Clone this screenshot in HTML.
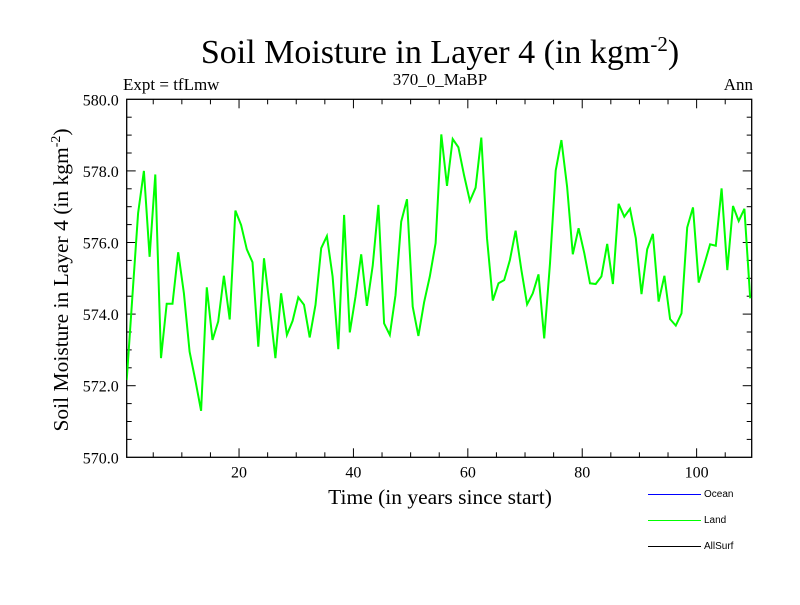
<!DOCTYPE html>
<html><head><meta charset="utf-8"><style>
body{margin:0;background:#fff}
svg text{font-family:"Liberation Serif",serif;fill:#000}
</style></head><body>
<svg id="chart" width="800" height="600" xmlns="http://www.w3.org/2000/svg">
<text x="440" y="63" font-size="34" text-anchor="middle">Soil Moisture in Layer 4 (in kgm<tspan dy="-12" font-size="21">-2</tspan><tspan dy="12">)</tspan></text>
<text x="123" y="90" font-size="17">Expt = tfLmw</text>
<text x="440" y="85" font-size="17" text-anchor="middle">370_0_MaBP</text>
<text x="753" y="90" font-size="17" text-anchor="end">Ann</text>
<text transform="translate(68,280) rotate(-90)" font-size="21.5" text-anchor="middle">Soil Moisture in Layer 4 (in kgm<tspan dy="-8" font-size="14">-2</tspan><tspan dy="8">)</tspan></text>
<text x="440" y="504" font-size="21.5" text-anchor="middle">Time (in years since start)</text>
<g id="axes"></g>
<g id="series"></g>
<g id="legend" shape-rendering="crispEdges">
<line x1="648" y1="494.5" x2="701" y2="494.5" stroke="#0000ff"/>
<text x="704" y="497" style="font-family:'Liberation Sans',sans-serif;font-size:10px">Ocean</text>
<line x1="648" y1="520.5" x2="701" y2="520.5" stroke="#00ff00"/>
<text x="704" y="523" style="font-family:'Liberation Sans',sans-serif;font-size:10px">Land</text>
<line x1="648" y1="546.5" x2="701" y2="546.5" stroke="#000"/>
<text x="704" y="549" style="font-family:'Liberation Sans',sans-serif;font-size:10px">AllSurf</text>
</g>
</svg>
<script>
const landValues=[572.16,574.5,576.82,578.0,575.6,577.9,572.77,574.29,574.29,575.73,574.58,572.95,572.16,571.30,574.75,573.28,573.79,575.07,573.85,576.89,576.49,575.81,575.45,573.09,575.56,574.21,572.77,574.58,573.42,573.81,574.47,574.26,573.35,574.26,575.84,576.18,575.05,573.02,576.77,573.49,574.49,575.67,574.23,575.35,577.05,573.74,573.42,574.53,576.58,577.21,574.21,573.39,574.33,575.05,575.98,579.02,577.58,578.89,578.66,577.86,577.16,577.53,578.93,576.12,574.38,574.86,574.95,575.51,576.33,575.23,574.27,574.58,575.11,573.32,575.42,578.01,578.86,577.56,575.67,576.40,575.70,574.86,574.84,575.05,575.96,574.84,577.08,576.72,576.94,576.12,574.56,575.81,576.24,574.35,575.07,573.86,573.68,574.02,576.42,576.98,574.88,575.40,575.95,575.91,577.51,575.23,577.02,576.60,576.94,574.44];
const xTickLabels=[20,40,60,80,100];
const yTickLabels=[570,572,574,576,578,580];
const X0=0.36,X1=109.63,Y0=570,Y1=580;
const L=126.7,R=751.7,T=99.3,B=457.3;
const NS="http://www.w3.org/2000/svg";
function xs(t){return L+(t-X0)/(X1-X0)*(R-L);}
function ys(v){return B-(v-Y0)/(Y1-Y0)*(B-T);}
function mk(tag,attrs,parent){const e=document.createElementNS(NS,tag);for(const k in attrs)e.setAttribute(k,attrs[k]);parent.appendChild(e);return e;}
const ax=document.getElementById('axes');
const frame=mk('rect',{x:L,y:T,width:R-L,height:B-T,fill:'none',stroke:'#000','stroke-width':1.3},ax);


for(let v=5;v<X1;v+=5){const x=xs(v);const len=v%20===0?9:5;
 mk('line',{x1:x,y1:B,x2:x,y2:B-len,stroke:'#000'},ax);mk('line',{x1:x,y1:T,x2:x,y2:T+len,stroke:'#000'},ax);}
for(let v=570.5;v<580;v+=0.5){const y=ys(v);const len=Math.abs(v%2)<1e-6?9:5;
 mk('line',{x1:L,y1:y,x2:L+len,y2:y,stroke:'#000'},ax);mk('line',{x1:R,y1:y,x2:R-len,y2:y,stroke:'#000'},ax);}
xTickLabels.forEach(v=>{const t=mk('text',{x:xs(v),y:B+20,'font-size':16,'text-anchor':'middle'},ax);t.textContent=v;
 
 });
yTickLabels.forEach(v=>{const t=mk('text',{x:L-8,y:ys(v)+6,'font-size':16,'text-anchor':'end'},ax);t.textContent=v.toFixed(1);
 
 });
const pts=landValues.map((v,i)=>xs(X0+i).toFixed(1)+','+ys(v).toFixed(1)).join(' ');
const clip=mk('clipPath',{id:'pc'},ax);mk('rect',{x:L,y:T,width:R-L,height:B-T},clip);
const line=mk('polyline',{points:pts,fill:'none',stroke:'#00ff00','stroke-width':2,'clip-path':'url(#pc)'},document.getElementById('series'));


</script>
</body></html>
